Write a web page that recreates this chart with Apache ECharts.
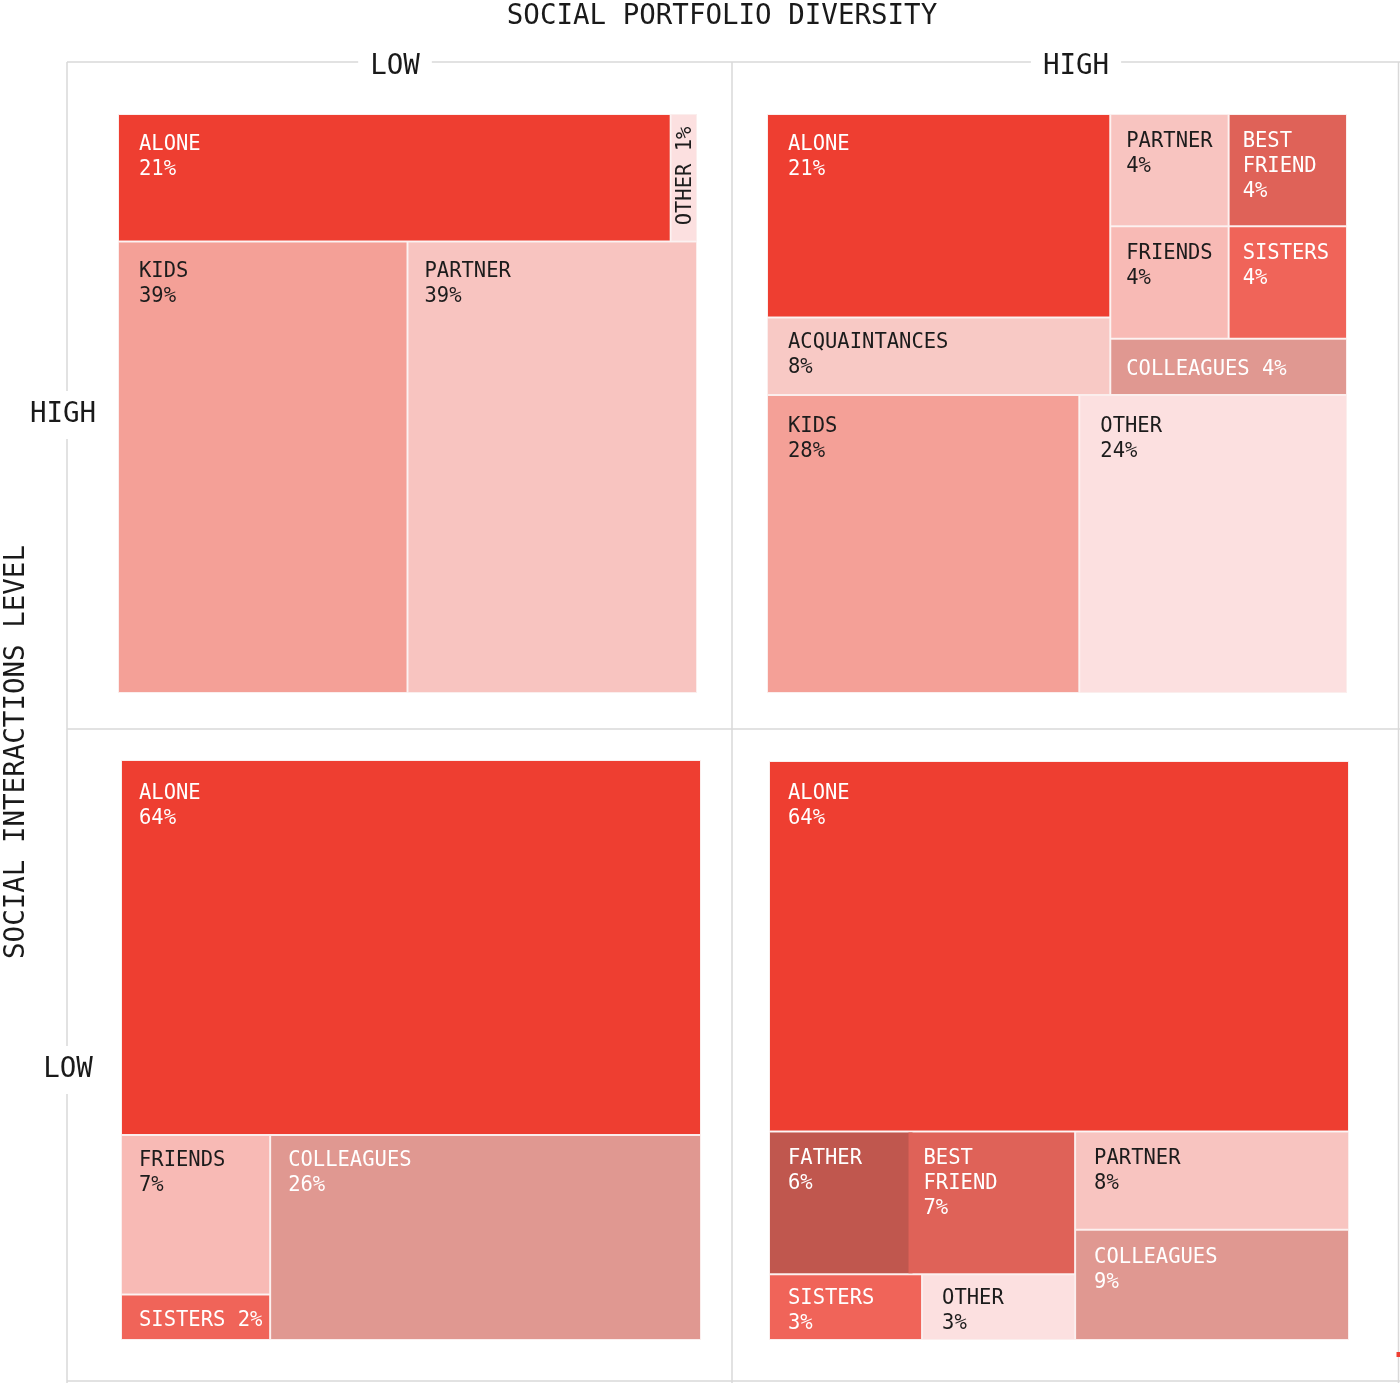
<!DOCTYPE html>
<html>
<head>
<meta charset="utf-8">
<script src="https://cdn.jsdelivr.net/npm/echarts@6/dist/echarts.min.js"></script>
<style>
html,body{margin:0;padding:0;background:#ffffff;}
#chart{width:1400px;height:1383px;}
</style>
</head>
<body>
<div id="chart"></div>
<script>
// ---------------- DATA ----------------
const xAxisTitle = 'SOCIAL PORTFOLIO DIVERSITY';
const yAxisTitle = 'SOCIAL INTERACTIONS LEVEL';
const levelLabels = ['LOW', 'HIGH'];

// Low diversity / high interactions
const tlNames  = ['ALONE', 'OTHER', 'KIDS', 'PARTNER'];
const tlValues = [21, 1, 39, 39];
const tlTree   = [[0, 1], [2, 3]];

// High diversity / high interactions
const trNames  = ['ALONE', 'ACQUAINTANCES', 'PARTNER', 'BEST FRIEND', 'FRIENDS', 'SISTERS', 'COLLEAGUES', 'KIDS', 'OTHER'];
const trValues = [21, 8, 4, 4, 4, 4, 4, 28, 24];
const trTree   = [[[0, 1], [[[2, 3], [4, 5]], 6]], [7, 8]];

// Low diversity / low interactions
const blNames  = ['ALONE', 'FRIENDS', 'SISTERS', 'COLLEAGUES'];
const blValues = [64, 7, 2, 26];
const blTree   = [0, [[1, 2], 3]];

// High diversity / low interactions
const brNames  = ['ALONE', 'FATHER', 'BEST FRIEND', 'SISTERS', 'OTHER', 'PARTNER', 'COLLEAGUES'];
const brValues = [64, 6, 7, 3, 3, 8, 9];
const brTree   = [0, [[[1, 2], [3, 4]], [5, 6]]];

// ---------------- STYLE ----------------
const FONT = 'DejaVu Sans Mono';
const SEP = '#fbeeed';
const cellColor = {
  'ALONE': '#ee3e31',
  'KIDS': '#f4a097',
  'PARTNER': '#f8c4c0',
  'OTHER': '#fce0e0',
  'FRIENDS': '#f8bab5',
  'ACQUAINTANCES': '#f8c9c5',
  'BEST FRIEND': '#df6258',
  'SISTERS': '#f06459',
  'COLLEAGUES': '#e09891',
  'FATHER': '#c0574e'
};
const lightText = new Set(['ALONE', 'BEST FRIEND', 'SISTERS', 'COLLEAGUES', 'FATHER']);

// label paddings [top, left] per quadrant
const padTL = {ALONE: [17, 20], OTHER: [0, 0], KIDS: [17, 20], PARTNER: [17, 16]};
const padTR = {ALONE: [17, 20], ACQUAINTANCES: [12, 20], PARTNER: [14, 15], 'BEST FRIEND': [14, 13],
               FRIENDS: [14, 15], SISTERS: [14, 13], COLLEAGUES: [0, 15], KIDS: [18, 20], OTHER: [18, 20]};
const padBL = {ALONE: [20, 17], FRIENDS: [12, 17], SISTERS: [0, 17], COLLEAGUES: [12, 17]};
const padBR = {ALONE: [19, 18], FATHER: [14, 18], 'BEST FRIEND': [14, 15], PARTNER: [14, 18],
               COLLEAGUES: [15, 18], SISTERS: [11, 18], OTHER: [11, 19]};

function leafLabel(name, value, pad, mode) {
  const base = {
    show: true, distance: 0, fontFamily: FONT, fontSize: 20.5, lineHeight: 25,
    color: lightText.has(name) ? '#ffffff' : '#1c1c1c', overflow: 'none'
  };
  if (mode === 'inline') {
    return Object.assign(base, {position: 'insideLeft', padding: [0, 0, 0, pad[1]], offset: [0, 3],
      formatter: name + ' ' + value + '%'});
  }
  if (mode === 'rotated') {
    return Object.assign(base, {position: [1, '88%'], rotate: 90, align: 'left', verticalAlign: 'top',
      padding: 0, formatter: name + ' ' + value + '%'});
  }
  return Object.assign(base, {position: 'insideTopLeft', padding: [pad[0], 0, 0, pad[1]],
    formatter: name.replace(' ', '\n') + '\n' + value + '%'});
}

function build(node, names, values, pads, modes) {
  if (Array.isArray(node)) {
    return {name: '', children: node.map(n => build(n, names, values, pads, modes))};
  }
  const name = names[node];
  const value = values[node];
  return {
    name: name,
    value: value,
    itemStyle: {color: cellColor[name], borderWidth: 1, borderColor: SEP},
    label: leafLabel(name, value, pads[name] || [15, 18], modes[name])
  };
}

const tlData = build(tlTree, tlNames, tlValues, padTL, {OTHER: 'rotated'}).children;
const trData = build(trTree, trNames, trValues, padTR, {COLLEAGUES: 'inline'}).children;
const blData = build(blTree, blNames, blValues, padBL, {SISTERS: 'inline'}).children;
const brData = build(brTree, brNames, brValues, padBR, {}).children;
// slight inner overlap on the father / best-friend row so that squarify keeps them side by side
brData[1].children[0].children[0].itemStyle = {gapWidth: -6};

function treemap(box, ratio, data) {
  return {
    type: 'treemap',
    left: box[0], top: box[1], width: box[2], height: box[3],
    squareRatio: ratio,
    sort: false,
    roam: false,
    nodeClick: false,
    animation: false,
    breadcrumb: {show: false},
    upperLabel: {show: false},
    itemStyle: {borderWidth: 0, gapWidth: 0, borderColor: '#ffffff'},
    emphasis: {disabled: true},
    data: data
  };
}

const lineColor = '#d9d9d9';
const frameLines = [
  [67, 62, 1400, 62], [67, 729, 1400, 729], [67, 1381, 1400, 1381],
  [67, 62, 67, 1383], [732, 62, 732, 1383], [1398.5, 62, 1398.5, 1383]
];
const graphics = frameLines.map(l => ({
  type: 'line', z: 1,
  shape: {x1: l[0], y1: l[1], x2: l[2], y2: l[3]},
  style: {stroke: lineColor, lineWidth: 1.5}
}));
const txt = (text, x, y, pad, rot) => ({
  type: 'text', x: x, y: y, z: 5, rotation: rot || 0,
  style: {text: text, font: '27.5px "' + FONT + '"', fill: '#1a1a1a', align: 'center', verticalAlign: 'middle',
          backgroundColor: pad ? '#ffffff' : 'transparent', padding: pad || 0}
});
graphics.push(txt(xAxisTitle, 722, 17));
graphics.push(txt(levelLabels[0], 395, 67, [4, 12]));
graphics.push(txt(levelLabels[1], 1076, 67, [4, 12]));
graphics.push(txt(levelLabels[1], 63, 415, [10, 2]));
graphics.push(txt(levelLabels[0], 68, 1070, [10, 2]));
graphics.push(txt(yAxisTitle, 17, 752, null, Math.PI / 2));
graphics.push({type: 'rect', z: 5, shape: {x: 1396.5, y: 1352, width: 4, height: 5}, style: {fill: '#ee3e31'}});

const chart = echarts.init(document.getElementById('chart'), null, {renderer: 'canvas', width: 1400, height: 1383});
chart.setOption({
  backgroundColor: '#ffffff',
  animation: false,
  graphic: graphics,
  series: [
    treemap([118, 114, 579, 579], 0.5, tlData),
    treemap([767, 114, 580, 579], 2.04, trData),
    treemap([121, 760, 580, 580], 0.5, blData),
    treemap([769, 761, 580, 579], 2.18, brData)
  ]
});
</script>
</body>
</html>
